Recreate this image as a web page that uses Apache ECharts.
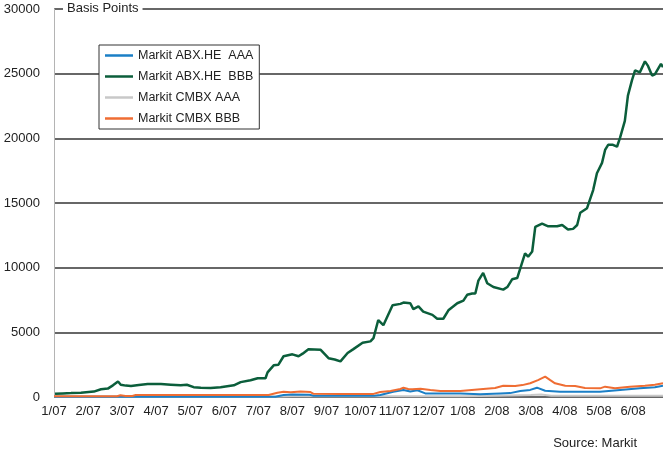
<!DOCTYPE html>
<html>
<head>
<meta charset="utf-8">
<title>Markit ABX / CMBX spreads</title>
<script src="https://cdn.jsdelivr.net/npm/echarts@6/dist/echarts.min.js"></script>
<style>
    html, body { margin: 0; padding: 0; background: #fff; }
    #main { width: 663px; height: 452px; }
</style>
</head>
<body>
<div id="main"></div>
<script>
'use strict';

// month labels, one per month starting 1/07 (x value = month index)
var monthLabels = ['1/07', '2/07', '3/07', '4/07', '5/07', '6/07', '7/07', '8/07', '9/07',
    '10/07', '11/07', '12/07', '1/08', '2/08', '3/08', '4/08', '5/08', '6/08'];
var xEnd = 17.88; // data runs to end of june 08

var yTicks = { min: 0, max: 30000, step: 5000 };

// [month index, basis points]
var abxAAA = [[0, 10], [3, 15], [6.5, 20], [6.74, 150], [7.0, 200], [7.5, 180], [7.62, 100],
    [9.4, 100], [9.58, 150], [9.96, 410], [10.26, 540], [10.46, 420], [10.67, 520], [10.9, 280],
    [11.93, 280], [12.51, 210], [13.1, 280], [13.39, 300], [13.69, 460], [13.98, 550], [14.18, 720],
    [14.42, 480], [14.86, 410], [15.45, 410], [16.03, 400], [16.62, 540], [17.2, 670], [17.64, 750],
    [17.88, 870]];

var abxBBB = [[0.03, 250], [0.26, 280], [0.5, 300], [0.79, 330], [1.17, 420], [1.38, 600], [1.58, 650],
    [1.73, 900], [1.88, 1200], [1.96, 950], [2.11, 880], [2.26, 850], [2.49, 920], [2.75, 1000],
    [3.14, 1000], [3.43, 950], [3.72, 900], [3.9, 950], [4.1, 760], [4.31, 720], [4.6, 700],
    [4.89, 760], [5.28, 900], [5.48, 1150], [5.77, 1300], [5.98, 1450], [6.21, 1450], [6.27, 1900],
    [6.45, 2450], [6.59, 2500], [6.74, 3150], [7.0, 3300], [7.18, 3150], [7.3, 3350], [7.47, 3700],
    [7.83, 3650], [8.06, 3000], [8.24, 2900], [8.41, 2750], [8.62, 3400], [8.79, 3700], [9.06, 4200],
    [9.29, 4300], [9.38, 4550], [9.52, 5950], [9.67, 5550], [9.94, 7100], [10.17, 7200], [10.26, 7300],
    [10.46, 7250], [10.55, 6800], [10.7, 7000], [10.84, 6600], [11.11, 6350], [11.25, 6050],
    [11.43, 6050], [11.58, 6700], [11.84, 7250], [12.02, 7450], [12.13, 7900], [12.28, 8000],
    [12.37, 8000], [12.46, 9000], [12.6, 9600], [12.72, 8800], [12.9, 8500], [13.19, 8300],
    [13.31, 8500], [13.45, 9100], [13.6, 9200], [13.69, 9950], [13.83, 11100], [13.92, 10850],
    [14.04, 11250], [14.13, 13150], [14.33, 13400], [14.51, 13200], [14.77, 13200], [14.92, 13300],
    [15.09, 12950], [15.24, 13000], [15.36, 13300], [15.45, 14250], [15.65, 14600], [15.83, 16000],
    [15.94, 17300], [16.09, 18100], [16.18, 19100], [16.27, 19500], [16.41, 19500], [16.53, 19350],
    [16.62, 20050], [16.76, 21350], [16.85, 23300], [16.97, 24500], [17.06, 25250], [17.2, 25100],
    [17.35, 25950], [17.44, 25600], [17.56, 24850], [17.64, 24950], [17.82, 25750], [17.88, 25500]];

var cmbxAAA = [[0, 10], [6.3, 20], [7.0, 60], [12, 60], [13, 90], [14, 150], [14.3, 200],
    [14.6, 100], [17.88, 100]];

var cmbxBBB = [[0, 60], [1.85, 60], [1.95, 130], [2.1, 80], [2.3, 80], [2.4, 150], [6.3, 150],
    [6.56, 330], [6.74, 400], [6.95, 360], [7.24, 420], [7.53, 380], [7.62, 250], [8.41, 230],
    [9.38, 240], [9.58, 380], [9.88, 460], [10.17, 620], [10.26, 720], [10.4, 620], [10.52, 600],
    [10.76, 640], [11.05, 540], [11.34, 460], [11.93, 460], [12.6, 620], [12.95, 700], [13.19, 870],
    [13.54, 850], [13.75, 920], [13.98, 1060], [14.21, 1300], [14.42, 1570], [14.57, 1300],
    [14.71, 1060], [15.01, 870], [15.3, 850], [15.59, 700], [16.03, 670], [16.18, 800], [16.47, 680],
    [16.91, 800], [17.35, 870], [17.64, 950], [17.88, 1060]];

var colors = {
    abxAAA: '#1b7fc6',
    abxBBB: '#0b5e3b',
    cmbxAAA: '#c8c8c8',
    cmbxBBB: '#ef6d33'
};

var font = "'Liberation Sans', Arial, sans-serif";

function lineSeries(name, data, color, width, z) {
    return {
        name: name,
        type: 'line',
        data: data,
        symbol: 'none',
        z: z,
        silent: true,
        animation: false,
        itemStyle: { color: color },
        lineStyle: { color: color, width: width }
    };
}

var myChart = echarts.init(document.getElementById('main'));
var option = {
    animation: false,
    textStyle: { fontFamily: font },
    grid: {
        left: 54,
        right: 0,
        top: 9,
        bottom: 55
    },
    title: {
        text: 'Basis Points',
        left: 63,
        top: 2,
        padding: [0, 4],
        backgroundColor: '#fff',
        textStyle: { fontSize: 13, fontWeight: 'normal', color: '#222', fontFamily: font }
    },
    legend: {
        orient: 'vertical',
        left: 99,
        top: 45,
        padding: [4, 6, 4, 6],
        icon: 'rect',
        itemWidth: 28,
        itemHeight: 2.5,
        itemGap: 8,
        backgroundColor: '#fff',
        borderColor: '#333',
        borderWidth: 1,
        borderRadius: 0,
        textStyle: { fontSize: 12.5, color: '#222', fontFamily: font },
        data: ['Markit ABX.HE  AAA', 'Markit ABX.HE  BBB', 'Markit CMBX AAA', 'Markit CMBX BBB']
    },
    xAxis: {
        type: 'value',
        min: 0,
        max: xEnd,
        interval: 1,
        axisLine: { show: false },
        axisTick: { show: false },
        splitLine: { show: false },
        axisLabel: {
            margin: 8,
            fontSize: 13,
            color: '#222',
            fontFamily: font,
            showMaxLabel: false,
            formatter: function (v) {
                return Number.isInteger(v) && monthLabels[v] ? monthLabels[v] : '';
            }
        }
    },
    yAxis: {
        type: 'value',
        min: yTicks.min,
        max: yTicks.max,
        interval: yTicks.step,
        axisLine: { show: true, lineStyle: { color: '#b4b4b4', width: 1 } },
        axisTick: { show: false },
        splitLine: { lineStyle: { color: '#676767', width: 2 } },
        axisLabel: {
            margin: 14,
            fontSize: 13,
            color: '#222',
            fontFamily: font,
            formatter: function (v) { return String(v); }
        }
    },
    graphic: [{
        type: 'text',
        right: 26,
        top: 437,
        style: { text: 'Source: Markit', fontSize: 13, fill: '#222', fontFamily: font }
    }],
    series: [
        lineSeries('Markit ABX.HE  AAA', abxAAA, colors.abxAAA, 2, 3),
        lineSeries('Markit ABX.HE  BBB', abxBBB, colors.abxBBB, 2.5, 5),
        lineSeries('Markit CMBX AAA', cmbxAAA, colors.cmbxAAA, 2, 2),
        lineSeries('Markit CMBX BBB', cmbxBBB, colors.cmbxBBB, 2, 4)
    ]
};
myChart.setOption(option);
</script>
</body>
</html>
